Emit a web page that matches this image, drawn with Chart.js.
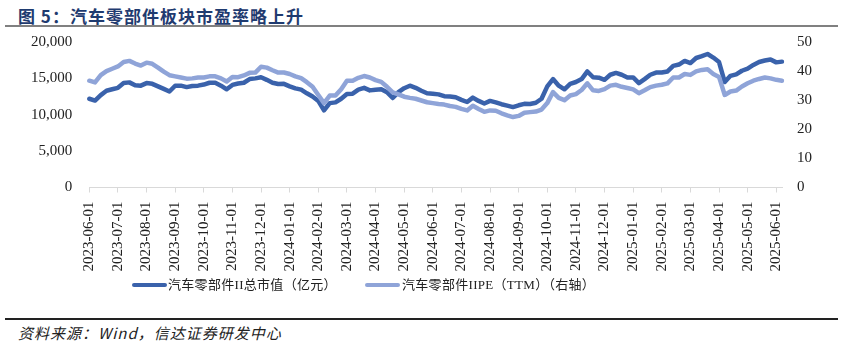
<!DOCTYPE html>
<html>
<head>
<meta charset="utf-8">
<script src="https://cdn.jsdelivr.net/npm/chart.js@4.4.1/dist/chart.umd.min.js"></script>
<style>
  body { margin: 0; width: 843px; height: 344px; background: #fff; position: relative; overflow: hidden; }
  #title { position: absolute; left: 18px; top: 3px; font: bold 17px "Noto Sans CJK SC", sans-serif; color: #1f3b70; letter-spacing: 1px; }
  .rule { position: absolute; left: 5px; width: 833px; }
  #ruleTop { top: 25px; height: 2px; background: #808080; }
  #ruleBottom { top: 318px; height: 1.5px; background: #222; }
  #wrap { position: absolute; left: 0; top: 16px; width: 843px; height: 262px; }
  #legend { position: absolute; top: 276px; left: 0; width: 843px; height: 18px; font: 13px "Liberation Serif", "Noto Sans CJK SC", serif; color: #222; }
  #legend .swatch { position: absolute; top: 7px; width: 35px; height: 4px; border-radius: 2px; }
  #legend .text { position: absolute; top: 0; line-height: 18px; white-space: nowrap; letter-spacing: 0.3px; }
  #source { position: absolute; left: 18px; top: 322px; font: italic 15px "Noto Sans CJK SC", sans-serif; color: #222; letter-spacing: 1px; }
</style>
</head>
<body>
<div id="title">图 5：汽车零部件板块市盈率略上升</div>
<div class="rule" id="ruleTop"></div>
<div id="wrap"><canvas id="chart"></canvas></div>
<div id="legend"></div>
<div class="rule" id="ruleBottom"></div>
<div id="source">资料来源：Wind，信达证券研发中心</div>
<script>
// month starts shown on the x axis, 5 samples per month in between
const months = [
  '2023-06-01', '2023-07-01', '2023-08-01', '2023-09-01', '2023-10-01', '2023-11-01', '2023-12-01',
  '2024-01-01', '2024-02-01', '2024-03-01', '2024-04-01', '2024-05-01', '2024-06-01', '2024-07-01',
  '2024-08-01', '2024-09-01', '2024-10-01', '2024-11-01', '2024-12-01', '2025-01-01', '2025-02-01',
  '2025-03-01', '2025-04-01', '2025-05-01', '2025-06-01'
];
const STEPS = 5;

// 汽车零部件II总市值（亿元）
const marketCap = [
  12200, 11950, 12700, 13300, 13500,
  13700, 14350, 14450, 14050, 14000,
  14350, 14250, 13900, 13550, 13200,
  13990, 14000, 13800, 13950, 14000,
  14150, 14400, 14400, 14000, 13500,
  14100, 14300, 14400, 14900, 15000,
  15150, 14800, 14400, 14220, 14250,
  13900, 13620, 13450, 12950, 12500,
  11900, 10600, 11600, 11700, 12200,
  12860, 12900, 13450, 13700, 13350,
  13450, 13500, 13100, 12300, 13100,
  13650, 13990, 13700, 13300, 12950,
  12900, 12800, 12550, 12500, 12400,
  12050, 11750, 12350, 11900, 11550,
  11900, 11700, 11450, 11250, 11050,
  11300, 11500, 11480, 11650, 12200,
  13900, 14900, 14000, 13500, 14250,
  14500, 14900, 15950, 15150, 15100,
  14800, 15500, 15750, 15500, 15130,
  15130, 14350, 14900, 15500, 15800,
  15800, 15950, 16720, 16900, 17400,
  17100, 17800, 18050, 18350, 17860,
  17250, 14500, 15350, 15550, 16050,
  16350, 16850, 17250, 17450, 17600,
  17200, 17300
];

// 汽车零部件IIPE（TTM），右轴
const peTTM = [
  36.7, 36.1, 38.6, 40.0, 40.8,
  41.6, 43.1, 43.5, 42.6, 41.9,
  42.9, 42.5, 41.2, 39.8, 38.6,
  38.2, 37.8, 37.4, 37.5, 37.8,
  37.8, 38.2, 38.2, 37.5, 36.4,
  38.0, 37.9, 38.5, 39.4, 39.5,
  41.5, 41.2, 40.3, 39.5, 39.5,
  39.0, 38.2, 37.6, 36.2, 34.6,
  31.8, 29.0, 31.6, 31.6, 33.8,
  36.7, 36.7, 37.7, 38.3, 37.8,
  36.9, 36.3, 34.6, 32.7, 32.0,
  31.2, 30.8, 30.5, 29.9, 29.3,
  29.0, 28.7, 28.5, 28.0, 27.7,
  27.0, 26.5, 28.1, 27.0, 26.0,
  26.5, 26.4, 25.5, 24.8, 24.2,
  24.6, 25.7, 25.9, 26.1, 26.8,
  29.0, 32.8, 30.8, 30.0, 31.6,
  32.1, 33.5, 35.8, 33.4, 33.2,
  33.8, 35.0, 35.3, 34.6, 34.2,
  33.7, 32.4, 33.4, 34.5, 35.0,
  35.3, 35.8, 37.8, 37.8, 39.0,
  38.7, 39.9, 40.4, 40.6, 39.0,
  38.0, 31.8, 33.0, 33.3, 34.7,
  35.8, 36.7, 37.3, 37.8, 37.5,
  37.0, 36.7
];

const seriesNames = ['汽车零部件II总市值（亿元）', '汽车零部件IIPE（TTM）（右轴）'];
const colors = ['#3a62ab', '#8fa4d8'];

// one label per sample, month name only on the first sample of the month
const labels = marketCap.map((_, i) => (i % STEPS === 0 ? months[i / STEPS] : ''));

const axisFont = { family: '"Liberation Serif", "Times New Roman", serif', size: 15 };

const chart = new Chart(document.getElementById('chart'), {
  type: 'line',
  data: {
    labels: labels,
    datasets: [
      {
        label: seriesNames[0], data: marketCap, yAxisID: 'y', order: 1,
        borderColor: colors[0], backgroundColor: colors[0], borderWidth: 4.5,
        pointRadius: 0, tension: 0, borderJoinStyle: 'round', borderCapStyle: 'round'
      },
      {
        label: seriesNames[1], data: peTTM, yAxisID: 'y1', order: 0,
        borderColor: colors[1], backgroundColor: colors[1], borderWidth: 4.5,
        pointRadius: 0, tension: 0, borderJoinStyle: 'round', borderCapStyle: 'round'
      }
    ]
  },
  options: {
    responsive: true,
    maintainAspectRatio: false,
    animation: false,
    layout: { padding: { top: 1, bottom: 0, left: 0, right: 0 } },
    plugins: { legend: { display: false }, tooltip: { enabled: false } },
    scales: {
      x: {
        type: 'category',
        offset: false,
        afterBuildTicks: (axis) => { axis.ticks = axis.ticks.filter(t => t.value % STEPS === 0); },
        afterFit: (axis) => { axis.height = 90.5; },
        border: { display: true, color: '#d9d9d9', width: 1 },
        grid: { display: true, drawOnChartArea: false, drawTicks: true, tickLength: 5, color: '#d9d9d9' },
        ticks: { autoSkip: false, minRotation: 90, maxRotation: 90, padding: 9, color: '#222', font: axisFont }
      },
      y: {
        position: 'left',
        min: 0, max: 20000,
        afterFit: (axis) => { axis.width = 89.3; },
        border: { display: false },
        grid: { display: false, drawTicks: false },
        ticks: { stepSize: 5000, padding: 17, color: '#222', font: axisFont,
          callback: (v) => v.toLocaleString('en-US') }
      },
      y1: {
        position: 'right',
        min: 0, max: 50,
        afterFit: (axis) => { axis.width = 61; },
        border: { display: false },
        grid: { display: false, drawTicks: false },
        ticks: { stepSize: 10, padding: 15, color: '#222', font: axisFont }
      }
    }
  }
});

// legend drawn below the chart with line swatches
const legendEl = document.getElementById('legend');
const legendPos = [[131.7, 168], [365, 402]];
seriesNames.forEach((name, i) => {
  const sw = document.createElement('div');
  sw.className = 'swatch';
  sw.style.left = legendPos[i][0] + 'px';
  sw.style.background = colors[i];
  const tx = document.createElement('div');
  tx.className = 'text';
  tx.style.left = legendPos[i][1] + 'px';
  tx.textContent = name;
  legendEl.appendChild(sw);
  legendEl.appendChild(tx);
});
</script>
</body>
</html>
